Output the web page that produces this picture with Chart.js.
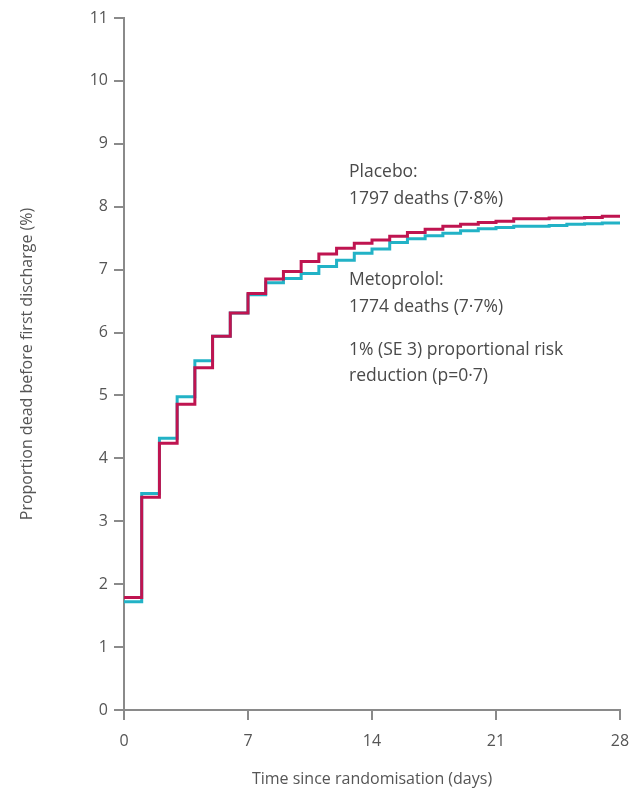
<!DOCTYPE html>
<html>
<head>
<meta charset="utf-8">
<script src="https://cdn.jsdelivr.net/npm/chart.js@4/dist/chart.umd.min.js"></script>
<style>
  html, body { margin: 0; padding: 0; background: #fff; }
  #wrap { width: 633px; height: 789px; }
</style>
</head>
<body>
<div id="wrap"><canvas id="kmChart"></canvas></div>
<script>
// days since randomisation (step starts)
const days = [0, 1, 2, 3, 4, 5, 6, 7, 8, 9, 10, 11, 12, 13, 14, 15, 16, 17, 18, 19, 20, 21, 22, 23, 24, 25, 26, 27, 28];
// cumulative proportion dead (%), value held from that day to the next
const placebo = [1.79, 3.38, 4.24, 4.86, 5.44, 5.94, 6.31, 6.62, 6.85, 6.97, 7.13, 7.25, 7.34, 7.42, 7.47, 7.53, 7.59, 7.64, 7.69, 7.72, 7.75, 7.77, 7.81, 7.81, 7.82, 7.82, 7.83, 7.85, 7.85];
const metoprolol = [1.72, 3.44, 4.32, 4.98, 5.55, 5.94, 6.31, 6.60, 6.79, 6.86, 6.94, 7.05, 7.15, 7.26, 7.33, 7.43, 7.49, 7.54, 7.58, 7.62, 7.65, 7.67, 7.69, 7.69, 7.70, 7.72, 7.73, 7.74, 7.74];
const xTicks = [0, 7, 14, 21, 28];
const yTicks = [0, 1, 2, 3, 4, 5, 6, 7, 8, 9, 10, 11];

const notes = [
    "Placebo:",
    "1797 deaths (7·8%)",
    "Metoprolol:",
    "1774 deaths (7·7%)",
    "1% (SE 3) proportional risk",
    "reduction (p=0·7)",
];

const FONT = "'Open Sans', 'DejaVu Sans', sans-serif";
const axisGrey = "#8a8a8a";
const textGrey = "#555";

const toPoints = (vals) => days.map((d, i) => ({ x: d, y: vals[i] }));

// annotation text on the chart
const notesPlugin = {
    id: "notes",
    afterDraw(chart) {
        const ctx = chart.ctx;
        ctx.save();
        ctx.fillStyle = "#4a4a4a";
        ctx.font = "17.5px " + FONT;
        ctx.textBaseline = "middle";
        ctx.textAlign = "left";
        const ys = [172, 199, 280, 307, 350, 376];
        notes.forEach((t, i) => ctx.fillText(t, 349, ys[i]));
        ctx.restore();
    },
};

new Chart(document.getElementById("kmChart"), {
    type: "line",
    data: {
        datasets: [
            {
                label: "Placebo",
                data: toPoints(placebo),
                borderColor: "#bf1450",
                borderWidth: 3,
                stepped: true,
                pointRadius: 0,
                fill: false,
            },
            {
                label: "Metoprolol",
                data: toPoints(metoprolol),
                borderColor: "#22b2c6",
                borderWidth: 3,
                stepped: true,
                pointRadius: 0,
                fill: false,
            },
        ],
    },
    options: {
        responsive: true,
        maintainAspectRatio: false,
        animation: false,
        layout: { padding: { left: 0, right: 13, top: 18, bottom: 0 } },
        plugins: {
            legend: { display: false },
            tooltip: { enabled: false },
        },
        scales: {
            x: {
                type: "linear",
                min: 0,
                max: 28,
                afterFit(scale) {
                    scale.height = 79;
                    scale.paddingRight = 0;
                    scale.paddingLeft = 0;
                },
                afterBuildTicks(scale) { scale.ticks = xTicks.map((v) => ({ value: v })); },
                border: { color: axisGrey, width: 2 },
                grid: { drawOnChartArea: false, drawTicks: true, tickLength: 10, color: axisGrey, lineWidth: 2 },
                ticks: { color: textGrey, font: { family: FONT, size: 16 }, padding: 12, maxRotation: 0 },
                title: {
                    display: true,
                    text: "Time since randomisation (days)",
                    color: textGrey,
                    font: { family: FONT, size: 16 },
                    padding: { top: 0, bottom: 0 },
                },
            },
            y: {
                min: 0,
                max: 11,
                afterFit(scale) {
                    scale.width = 124;
                    scale.paddingTop = 0;
                    scale.paddingBottom = 0;
                },
                afterBuildTicks(scale) { scale.ticks = yTicks.map((v) => ({ value: v })); },
                border: { color: axisGrey, width: 2 },
                grid: { drawOnChartArea: false, drawTicks: true, tickLength: 10, color: axisGrey, lineWidth: 2 },
                ticks: { color: textGrey, font: { family: FONT, size: 16 }, padding: 6 },
                title: {
                    display: true,
                    text: "Proportion dead before first discharge (%)",
                    color: textGrey,
                    font: { family: FONT, size: 16 },
                    padding: { top: 18, bottom: 0 },
                },
            },
        },
    },
    plugins: [notesPlugin],
});
</script>
</body>
</html>
